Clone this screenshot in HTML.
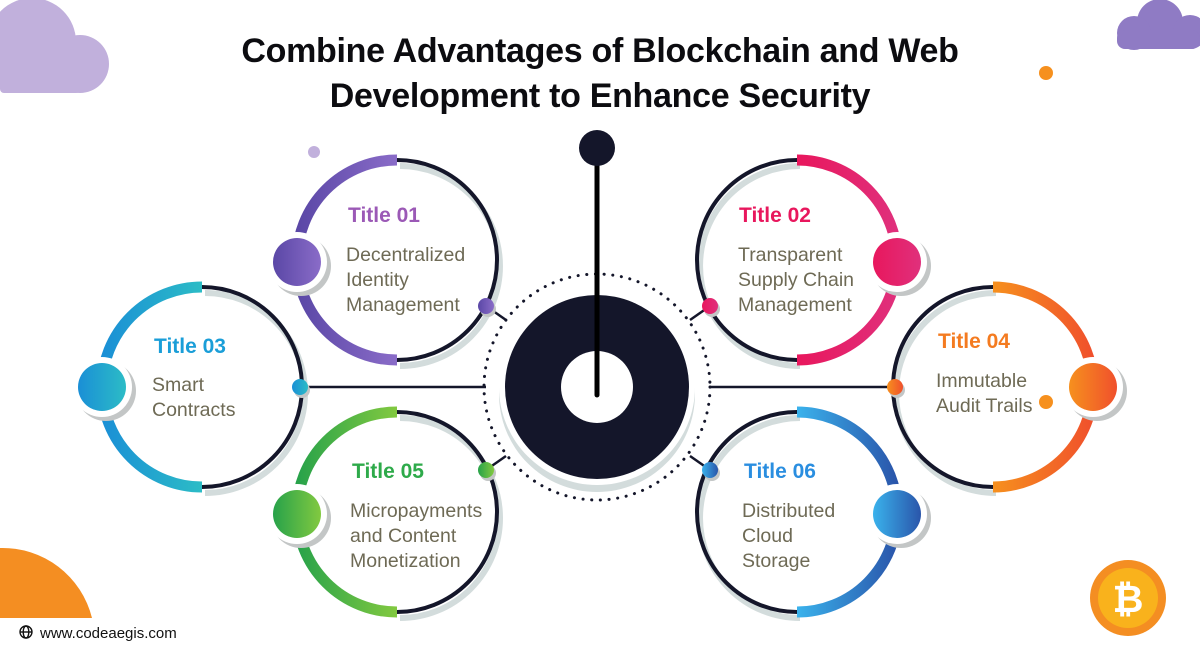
<!DOCTYPE html>
<html><head><meta charset="utf-8"><style>
html,body{margin:0;padding:0;background:#fff;}
svg{display:block;}
.t{font-family:"Liberation Sans",sans-serif;font-weight:bold;font-size:21px;}
.b{font-family:"Liberation Sans",sans-serif;font-size:19.5px;fill:#6e6a55;}
.h{font-family:"Liberation Sans",sans-serif;font-weight:bold;font-size:34px;fill:#0c0c10;letter-spacing:-0.3px;}
</style></head><body>
<svg width="1200" height="656" viewBox="0 0 1200 656" xmlns="http://www.w3.org/2000/svg">
<defs>
<linearGradient id="g1" x1="0" x2="1"><stop offset="0" stop-color="#5a47a6"/><stop offset="1" stop-color="#8a6cc8"/></linearGradient>
<linearGradient id="g2" x1="0" x2="1"><stop offset="0" stop-color="#e8175d"/><stop offset="1" stop-color="#e0307c"/></linearGradient>
<linearGradient id="g3" x1="0" x2="1"><stop offset="0" stop-color="#1a8fd6"/><stop offset="1" stop-color="#2cbcc6"/></linearGradient>
<linearGradient id="g4" x1="0" x2="1"><stop offset="0" stop-color="#f6901e"/><stop offset="1" stop-color="#f0502c"/></linearGradient>
<linearGradient id="g5" x1="0" x2="1"><stop offset="0" stop-color="#27a24a"/><stop offset="1" stop-color="#82c940"/></linearGradient>
<linearGradient id="g6" x1="0" x2="1"><stop offset="0" stop-color="#3ab2ec"/><stop offset="1" stop-color="#2a55aa"/></linearGradient>
</defs>
<g fill="#c1b0dc"><circle cx="32" cy="42" r="44"/><circle cx="80" cy="64" r="29"/><rect x="0" y="50" width="80" height="43" rx="4"/></g>
<g fill="#8f7bc4"><circle cx="1160" cy="22" r="23"/><circle cx="1134" cy="33" r="17"/><circle cx="1190" cy="32" r="17"/><rect x="1117" y="30" width="83" height="19" rx="8"/></g>
<circle cx="1046" cy="73" r="7" fill="#f6901e"/>
<circle cx="314" cy="152" r="6" fill="#c1b0dc"/>
<path d="M0 618 L0 548 A92 92 0 0 1 92 618 Z" fill="#f48e22"/>
<circle cx="1128" cy="598" r="38" fill="#f48e22"/>
<circle cx="1128" cy="598" r="30" fill="#f9b21c"/>
<text x="1128" y="612" text-anchor="middle" font-family="Liberation Sans,sans-serif" font-weight="bold" font-size="38" fill="#fff">₿</text>
<g stroke="#111" stroke-width="1.4" fill="none"><circle cx="26" cy="632" r="6"/><ellipse cx="26" cy="632" rx="2.8" ry="6"/><line x1="20" y1="632" x2="32" y2="632"/></g>
<text x="40" y="638" font-family="Liberation Sans,sans-serif" font-size="15" fill="#111">www.codeaegis.com</text>
<text x="600" y="62" text-anchor="middle" class="h">Combine Advantages of Blockchain and Web</text>
<text x="600" y="107" text-anchor="middle" class="h">Development to Enhance Security</text>
<g stroke="#14162a" stroke-width="2.5">
<line x1="300" y1="387" x2="486" y2="387"/><line x1="710" y1="387" x2="895" y2="387"/>
<line x1="486" y1="306" x2="506" y2="320"/><line x1="710" y1="306" x2="690" y2="320"/>
<line x1="486" y1="470" x2="506" y2="456"/><line x1="710" y1="470" x2="690" y2="456"/>
</g>
<circle cx="597" cy="387" r="113" fill="none" stroke="#14162a" stroke-width="3" stroke-dasharray="0.1 8.6" stroke-linecap="round"/>
<circle cx="597" cy="394" r="98" fill="#d3dcdc"/>
<circle cx="597" cy="387" r="98" fill="#fff"/>
<circle cx="597" cy="387" r="92" fill="#14162a"/>
<circle cx="597" cy="387" r="36" fill="#fff"/>
<line x1="597" y1="150" x2="597" y2="395" stroke="#000" stroke-width="5" stroke-linecap="round"/>
<circle cx="597" cy="148" r="18" fill="#14162a"/>
<g fill="none">
<path d="M397 162 A100 100 0 0 1 397 362" stroke="#d3dcdc" stroke-width="6" transform="translate(3,4)"/>
<path d="M397 160 A100 100 0 0 1 397 360" stroke="#14162a" stroke-width="4"/>
<path d="M397 160 A100 100 0 0 0 397 360" stroke="url(#g1)" stroke-width="11"/>
<path d="M797 162 A100 100 0 0 0 797 362" stroke="#d3dcdc" stroke-width="6" transform="translate(3,4)"/>
<path d="M797 160 A100 100 0 0 0 797 360" stroke="#14162a" stroke-width="4"/>
<path d="M797 160 A100 100 0 0 1 797 360" stroke="url(#g2)" stroke-width="11"/>
<path d="M202 289 A100 100 0 0 1 202 489" stroke="#d3dcdc" stroke-width="6" transform="translate(3,4)"/>
<path d="M202 287 A100 100 0 0 1 202 487" stroke="#14162a" stroke-width="4"/>
<path d="M202 287 A100 100 0 0 0 202 487" stroke="url(#g3)" stroke-width="11"/>
<path d="M993 289 A100 100 0 0 0 993 489" stroke="#d3dcdc" stroke-width="6" transform="translate(3,4)"/>
<path d="M993 287 A100 100 0 0 0 993 487" stroke="#14162a" stroke-width="4"/>
<path d="M993 287 A100 100 0 0 1 993 487" stroke="url(#g4)" stroke-width="11"/>
<path d="M397 414 A100 100 0 0 1 397 614" stroke="#d3dcdc" stroke-width="6" transform="translate(3,4)"/>
<path d="M397 412 A100 100 0 0 1 397 612" stroke="#14162a" stroke-width="4"/>
<path d="M397 412 A100 100 0 0 0 397 612" stroke="url(#g5)" stroke-width="11"/>
<path d="M797 414 A100 100 0 0 0 797 614" stroke="#d3dcdc" stroke-width="6" transform="translate(3,4)"/>
<path d="M797 412 A100 100 0 0 0 797 612" stroke="#14162a" stroke-width="4"/>
<path d="M797 412 A100 100 0 0 1 797 612" stroke="url(#g6)" stroke-width="11"/>
</g>
<g>
<circle cx="301" cy="266" r="30" fill="#c3c6c6"/><circle cx="297" cy="262" r="30" fill="#fff"/><circle cx="297" cy="262" r="24" fill="url(#g1)"/>
<circle cx="901" cy="266" r="30" fill="#c3c6c6"/><circle cx="897" cy="262" r="30" fill="#fff"/><circle cx="897" cy="262" r="24" fill="url(#g2)"/>
<circle cx="106" cy="391" r="30" fill="#c3c6c6"/><circle cx="102" cy="387" r="30" fill="#fff"/><circle cx="102" cy="387" r="24" fill="url(#g3)"/>
<circle cx="1097" cy="391" r="30" fill="#c3c6c6"/><circle cx="1093" cy="387" r="30" fill="#fff"/><circle cx="1093" cy="387" r="24" fill="url(#g4)"/>
<circle cx="301" cy="518" r="30" fill="#c3c6c6"/><circle cx="297" cy="514" r="30" fill="#fff"/><circle cx="297" cy="514" r="24" fill="url(#g5)"/>
<circle cx="901" cy="518" r="30" fill="#c3c6c6"/><circle cx="897" cy="514" r="30" fill="#fff"/><circle cx="897" cy="514" r="24" fill="url(#g6)"/>
</g>
<circle cx="1046" cy="402" r="7" fill="#f6901e"/>
<g>
<circle cx="488" cy="309" r="8" fill="#c3c6c6"/><circle cx="486" cy="306" r="8" fill="url(#g1)"/>
<circle cx="712" cy="309" r="8" fill="#c3c6c6"/><circle cx="710" cy="306" r="8" fill="url(#g2)"/>
<circle cx="302" cy="390" r="8" fill="#c3c6c6"/><circle cx="300" cy="387" r="8" fill="url(#g3)"/>
<circle cx="897" cy="390" r="8" fill="#c3c6c6"/><circle cx="895" cy="387" r="8" fill="url(#g4)"/>
<circle cx="488" cy="473" r="8" fill="#c3c6c6"/><circle cx="486" cy="470" r="8" fill="url(#g5)"/>
<circle cx="712" cy="473" r="8" fill="#c3c6c6"/><circle cx="710" cy="470" r="8" fill="url(#g6)"/>
</g>
<text x="348" y="222" class="t" fill="#9b59b6">Title 01</text>
<text x="346" y="261" class="b">Decentralized</text><text x="346" y="286" class="b">Identity</text><text x="346" y="311" class="b">Management</text>
<text x="739" y="222" class="t" fill="#e8175d">Title 02</text>
<text x="738" y="261" class="b">Transparent</text><text x="738" y="286" class="b">Supply Chain</text><text x="738" y="311" class="b">Management</text>
<text x="154" y="353" class="t" fill="#1a9ed8">Title 03</text>
<text x="152" y="391" class="b">Smart</text><text x="152" y="416" class="b">Contracts</text>
<text x="938" y="348" class="t" fill="#f47b20">Title 04</text>
<text x="936" y="387" class="b">Immutable</text><text x="936" y="412" class="b">Audit Trails</text>
<text x="352" y="478" class="t" fill="#2eaa4a">Title 05</text>
<text x="350" y="517" class="b">Micropayments</text><text x="350" y="542" class="b">and Content</text><text x="350" y="567" class="b">Monetization</text>
<text x="744" y="478" class="t" fill="#2a8ee0">Title 06</text>
<text x="742" y="517" class="b">Distributed</text><text x="742" y="542" class="b">Cloud</text><text x="742" y="567" class="b">Storage</text>
</svg>
</body></html>
